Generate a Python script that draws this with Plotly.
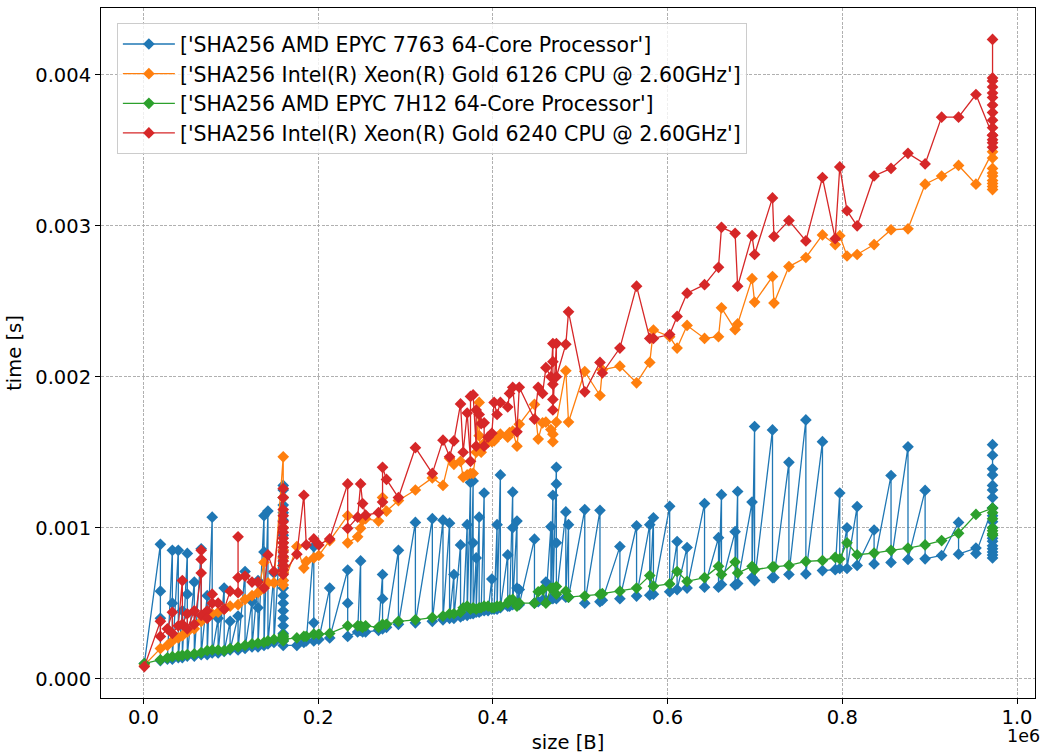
import plotly.graph_objects as go

# Message sizes in bytes (shared by all four runs)
sizes = [
    1000, 19400, 27400, 33100, 39900, 44500, 50200, 58200, 66100, 73000,          # 0-9
    78700, 85500, 92400, 99200, 108300, 116300, 124300, 131100, 138000, 142500,   # 10-19
    149400, 160000, 175600, 183600, 186400, 195000, 200700, 213200, 233800, 245200,  # 20-29
    248600, 250900, 254300, 269100, 273700, 278200, 291900, 311300, 330700, 342900,  # 30-39
    350400, 355400, 363000, 366000, 370600, 374400, 377400, 380900, 384300, 386600,  # 40-49
    390000, 394500, 398800, 401400, 404800, 408600, 417000, 419100, 422700, 427600,  # 50-59
    430200, 447600, 451900, 456900, 460700, 466400, 468700, 472700, 483500, 486600,  # 60-69
    505200, 522600, 525300, 545400, 564500, 579600, 583800, 602400, 610900, 622300,  # 70-79
    642300, 658300, 661700, 677300, 680200, 696700, 699600, 720100, 721800, 738900,  # 80-89
    758300, 777300, 791900, 797100, 805400, 817000, 836400, 855800, 875200, 894800,  # 90-99
    913700, 933100, 953000, 972000,                                               # 100-103
]

# Hash times in milliseconds; a list holds repeated measurements at one size
amd_7763_ms = [
    0.10, [0.89, 0.58, 0.40, 0.12], 0.13, [0.85, 0.50, 0.13], [0.85, 0.14], [0.45, 0.14],
    [0.83, 0.56, 0.15], [0.64, 0.15], [0.86, 0.16], [0.55, 0.16],                          # 0-9
    [1.07, 0.17], [0.40, 0.17], [0.60, 0.18], [0.38, 0.19], [0.415, 0.19], [0.71, 0.20],
    [0.51, 0.21], [0.65, 0.47, 0.21], [1.08, 0.84, 0.22], [1.11, 0.23],                     # 10-19
    [0.70, 0.24],
    [1.28, 1.25, 1.20, 1.15, 1.10, 1.05, 1.00, 0.95, 0.90, 0.85, 0.80, 0.75, 0.70, 0.65,
     0.60, 0.55, 0.50, 0.45, 0.40, 0.35, 0.30, 0.25, 0.22],
    0.22, 0.24, 0.25, [0.875, 0.37, 0.25], 0.26, [0.60, 0.27], [0.72, 0.50, 0.28], 0.31,      # 20-29
    [0.78, 0.32], 0.31, 0.31, 0.32, [0.69, 0.53, 0.33], 0.34, [0.85, 0.36], [1.035, 0.37],
    [1.06, 0.38], [1.05, 0.39],                                                            # 30-39
    [1.03, 0.40], [0.69, 0.40], [0.886, 0.41], 0.42, [1.02, 0.42], [1.30, 0.43],
    [1.31, 0.90, 0.43], [0.80, 0.44], [1.07, 0.44], 0.45,                                  # 40-49
    [1.23, 0.45], 0.45, [0.66, 0.46], 0.46, [1.02, 0.46], [1.35, 0.47], [0.82, 0.48], 0.48,
    [1.236, 1.0, 0.49], [1.044, 0.60, 0.49],                                               # 50-59
    [0.59, 0.49], [0.924, 0.50], 0.51, 0.52, [0.64, 0.52], [1.007, 0.53], [1.215, 0.53],
    [1.40, 1.29, 0.90, 0.53], [1.105, 0.54], [1.02, 0.54],                                 # 60-69
    [1.12, 0.50], [1.115, 0.51], 0.52, [0.875, 0.53], [1.013, 0.547], [1.02, 0.553],
    [1.066, 0.56], [1.142, 0.576], [0.908, 0.59], [0.869, 0.60],                           # 70-79
    [1.16, 0.606], [0.934, 0.606], [1.219, 0.624], [0.974, 0.62], [1.24, 0.63], [1.17, 0.67],
    [1.67, 0.65], [1.648, 0.67], 0.67, [1.433, 0.69],                                      # 80-89
    [1.714, 0.694], [1.57, 0.716], 0.722, [1.23, 0.73], [1.0, 0.73], [1.14, 0.75],
    [0.985, 0.76], [1.346, 0.77], [1.536, 0.79], [1.247, 0.794],                           # 90-99
    0.816, [1.035, 0.825], [0.865, 0.83],
    [1.13, 1.55, 1.48, 1.39, 1.35, 1.28, 1.25, 1.20, 1.13, 1.08, 1.04, 1.00, 0.95, 0.93,
     0.91, 0.88, 0.86, 0.84, 0.82, 0.80],                                                  # 100-103
]

xeon_6126_ms = [
    0.09, 0.20, 0.22, 0.25, 0.27, 0.285, 0.31, 0.33, 0.38, 0.405,                          # 0-9
    0.43, 0.44, 0.46, 0.48, 0.49, 0.525, 0.55, 0.57, [0.77, 0.60], 0.635,                  # 10-19
    0.635, [1.47, 1.20, 1.00, 0.90, 0.85, 0.80, 0.75, 0.70, 0.65, 0.62],
    0.875, 0.733, 0.777, 0.80, 0.816, 0.915, [1.08, 0.90], 0.94,                           # 20-29
    0.996, 1.05, 1.06, 1.044, 1.20, 1.11, 1.18, 1.25, 1.33, 1.28,                          # 30-39
    1.46, 1.42, 1.44, 1.335, 1.35, 1.36, 1.36, 1.50, [1.83, 1.61], 1.50,                   # 40-49
    1.56, 1.565, 1.57, 1.575, 1.60, 1.62, 1.60, 1.63, 1.64, 1.54,                          # 50-59
    1.685, 1.817, 1.587, 1.695, 1.70, 1.65, [1.62, 1.57], 1.70, 2.04, 1.70,                # 60-69
    2.035, 1.876, 2.046, 2.07, 1.96, 2.095, 2.31, 2.265, 2.19, 2.34,                       # 70-79
    2.254, 2.265, 2.457, 2.313, 2.35, 2.65, 2.495, 2.664, 2.488, 2.73,                     # 80-89
    2.79, 2.94, 2.876, 2.935, 2.80, 2.81, 2.876, 2.974, 2.98, 3.276,                       # 90-99
    3.33, 3.40, 3.276, [3.49, 3.45, 3.38, 3.35, 3.33, 3.30, 3.28, 3.26, 3.24],             # 100-103
]

amd_7h12_ms = [
    0.10, 0.125, 0.138, 0.146, 0.15, 0.155, 0.16, 0.164, 0.173, 0.186,                     # 0-9
    0.19, 0.19, 0.186, 0.20, 0.21, 0.22, 0.23, 0.235, 0.24, 0.25,                          # 10-19
    0.26, [0.29, 0.27, 0.25, 0.28, 0.26], 0.27, 0.28, 0.28, 0.295, 0.295, 0.30, 0.35, 0.35,  # 20-29
    0.35, 0.34, 0.35, 0.34, 0.36, 0.36, 0.38, 0.39, 0.405, 0.415,                          # 30-39
    0.43, 0.43, 0.44, 0.47, 0.48, 0.46, 0.47, 0.46, 0.47, 0.47,                            # 40-49
    0.48, 0.48, 0.47, 0.47, 0.48, 0.48, 0.50, 0.52, 0.525, 0.48,                           # 50-59
    0.50, 0.50, 0.576, 0.59, 0.50, 0.60, 0.60, [0.61, 0.56], 0.58, 0.54,                   # 60-69
    0.547, 0.558, 0.563, 0.58, 0.60, 0.683, 0.613, 0.628, 0.71, 0.645,                     # 70-79
    0.67, 0.744, 0.69, 0.773, 0.70, 0.744, 0.722, 0.74, 0.74, 0.75,                        # 80-89
    0.777, 0.783, 0.803, 0.793, 0.90, 0.821, 0.832, 0.85, 0.865, 0.886,                    # 90-99
    0.915, 0.963, 1.088, [1.13, 1.10, 1.06, 1.00, 0.98, 0.96, 0.95],                       # 100-103
]

xeon_6240_ms = [
    0.08, [0.38, 0.28], 0.33, [0.44, 0.30], 0.35, [0.65, 0.36], [0.43, 0.33], [0.45, 0.36],
    [0.70, 0.85, 0.79, 0.42], [0.45, 0.40],                                                # 0-9
    [0.56, 0.50], 0.50, 0.46, 0.58, [0.57, 0.94, 0.67], 0.68, 0.64, 0.64, 0.60, 0.82,      # 10-19
    0.71,
    [1.26, 1.20, 1.12, 1.08, 1.04, 1.00, 0.97, 0.93, 0.90, 0.87, 0.84, 0.81, 0.78, 0.75,
     0.72, 0.69],
    0.825, 1.215, 0.886, 0.926, 0.886, 0.926, [1.29, 0.996], 1.07,                         # 20-29
    1.29, 1.16, 1.083, 1.10, [1.17, 1.40], 1.32, 1.20, 1.53, 1.36, 1.58,                   # 30-39
    1.47, 1.575, 1.82, 1.50, 1.76, [1.44, 1.87], 1.88, [1.54, 1.78], 1.75, 1.69,           # 40-49
    [1.695, 1.54], 1.60, 1.626, 1.83, 1.75, 1.83, 1.80, 1.89, 1.93, 1.635,                 # 50-59
    1.93, 1.72, 1.93, 1.89, 2.06, 2.0, [2.22, 2.10, 1.95, 1.85, 1.78], [2.22, 2.0], 2.215,
    2.43,                                                                                  # 60-69
    1.90, 2.095, 2.025, 2.19, 2.60, 2.254, 2.254, 2.28, 2.40, 2.554,                       # 70-79
    2.61, 2.725, 2.99, 2.95, 2.60, 2.935, 2.81, 3.185, 2.93, 3.035,                        # 80-89
    2.90, 3.32, 2.915, 3.39, 3.10, 3.0, 3.33, 3.38, 3.48, 3.41,                            # 90-99
    3.72, 3.72, 3.87,
    [3.60, 4.235, 3.98, 3.96, 3.92, 3.88, 3.85, 3.80, 3.75, 3.70, 3.65, 3.60, 3.57, 3.55,
     3.52],                                                                                # 100-103
]

labels = [
    "['SHA256 AMD EPYC 7763 64-Core Processor']",
    "['SHA256 Intel(R) Xeon(R) Gold 6126 CPU @ 2.60GHz']",
    "['SHA256 AMD EPYC 7H12 64-Core Processor']",
    "['SHA256 Intel(R) Xeon(R) Gold 6240 CPU @ 2.60GHz']",
]
colors = ["#1f77b4", "#ff7f0e", "#2ca02c", "#d62728"]
runs = [amd_7763_ms, xeon_6126_ms, amd_7h12_ms, xeon_6240_ms]

x_tick_vals = [0, 200000, 400000, 600000, 800000, 1000000]
x_tick_text = ["0.0", "0.2", "0.4", "0.6", "0.8", "1.0"]
y_tick_vals = [0.0, 0.001, 0.002, 0.003, 0.004]
y_tick_text = ["0.000", "0.001", "0.002", "0.003", "0.004"]


def flatten(xs, values):
    """Expand repeated measurements into point lists (seconds)."""
    px, py = [], []
    for s, v in zip(xs, values):
        for t in (v if isinstance(v, list) else [v]):
            px.append(s)
            py.append(t / 1000.0)
    return px, py


FONT = "DejaVu Sans"
fig = go.Figure()
for label, color, run in zip(labels, colors, runs):
    assert len(run) == len(sizes)
    xs, ys = flatten(sizes, run)
    fig.add_trace(go.Scatter(
        x=xs, y=ys, mode="lines+markers", name=label,
        line=dict(color=color, width=1.3),
        marker=dict(symbol="diamond", size=9, color=color, line=dict(width=0)),
    ))

axis_common = dict(
    showline=True, linecolor="black", linewidth=1, mirror=True,
    ticks="outside", ticklen=5, tickwidth=1, tickcolor="black",
    showgrid=True, gridcolor="#b0b0b0", gridwidth=0.8, griddash="3px,1.5px",
    zeroline=False, tickfont=dict(family=FONT, size=19.5, color="black"),
)

fig.update_layout(
    width=1042, height=755,
    margin=dict(l=101, r=6, t=8, b=50),
    paper_bgcolor="white", plot_bgcolor="white",
    font=dict(family=FONT, size=19.5, color="black"),
    xaxis=dict(
        range=[-48600, 1020600], tickvals=x_tick_vals, ticktext=x_tick_text,
        ticklabelstandoff=-3,
        title=dict(text="size [B]", standoff=6, font=dict(family=FONT, size=19.5)),
        **axis_common,
    ),
    yaxis=dict(
        range=[-0.000128, 0.004443], tickvals=y_tick_vals, ticktext=y_tick_text,
        title=dict(text="time [s]", standoff=8, font=dict(family=FONT, size=19.5)),
        **axis_common,
    ),
    legend=dict(
        x=0.017, y=0.978, xanchor="left", yanchor="top",
        bgcolor="rgba(255,255,255,0.8)", bordercolor="#cccccc", borderwidth=1,
        font=dict(family=FONT, size=20.5, color="black"), itemwidth=52,
        tracegroupgap=0,
    ),
    showlegend=True,
)

# Scale factor for the x axis, placed under its right end
fig.add_annotation(
    text="1e6", xref="paper", yref="paper", x=1.006, y=-0.0717,
    xanchor="right", yanchor="bottom", showarrow=False, borderpad=0,
    font=dict(family=FONT, size=17.5, color="black"),
)

fig.write_html("out.html")
